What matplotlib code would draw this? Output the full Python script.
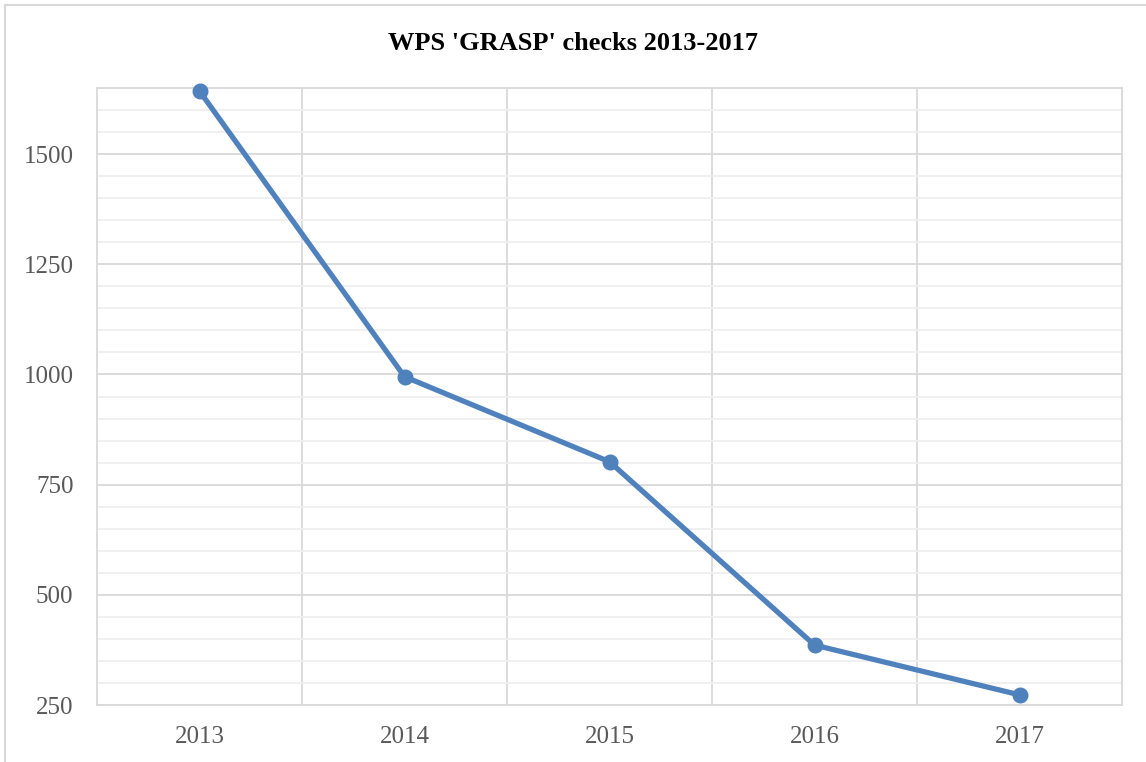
import matplotlib.pyplot as plt
from matplotlib.patches import Rectangle
import numpy as np

years = ['2013', '2014', '2015', '2016', '2017']
checks = [1643, 995, 802, 386, 273]
y_ticks = [250, 500, 750, 1000, 1250, 1500]

grid_major = '#d9d9d9'
grid_minor = '#efefef'
line_color = '#4f81bd'
text_color = '#595959'

fig = plt.figure(figsize=(11.46, 7.62), dpi=100)
W, H = 1146, 762
ax = fig.add_axes([97 / W, 1 - 705 / H, (1122 - 97) / W, (705 - 88) / H])

fig.patches.append(Rectangle((5 / W, -0.01), 1.02, 1 - 5 / H + 0.01,
                             transform=fig.transFigure, fill=False,
                             edgecolor=grid_major, linewidth=1.5))

x = np.arange(len(years))
ax.plot(x, checks, color=line_color, linewidth=3.8, marker='o',
        markersize=10.5, zorder=3, clip_on=False)

ax.set_xlim(-0.5, len(years) - 0.5)
ax.set_ylim(250, 1650)
ax.set_xticks(x)
ax.set_xticklabels(years)
ax.set_xticks(np.arange(0.5, len(years) - 0.5, 1), minor=True)
ax.set_yticks(y_ticks)
ax.set_yticks(np.arange(300, 1651, 50), minor=True)

ax.grid(which='minor', axis='y', color=grid_minor, linewidth=1.3)
ax.grid(which='major', axis='y', color=grid_major, linewidth=1.3)
ax.grid(which='minor', axis='x', color=grid_major, linewidth=1.3)
ax.set_axisbelow(True)

for s in ax.spines.values():
    s.set_color(grid_major)
    s.set_linewidth(1.3)

ax.tick_params(which='both', length=0)
ax.tick_params(axis='x', pad=15)
ax.tick_params(axis='y', pad=17)
for lab in ax.get_xticklabels() + ax.get_yticklabels():
    lab.set_fontfamily('Liberation Serif')
    lab.set_fontsize(18)
    lab.set_color(text_color)

fig.text(0.5, 1 - 43 / H, "WPS 'GRASP' checks 2013-2017", ha='center', va='center',
         fontsize=19, fontweight='bold', family='Liberation Serif', color='black')

fig.savefig('out.png', dpi=100)
